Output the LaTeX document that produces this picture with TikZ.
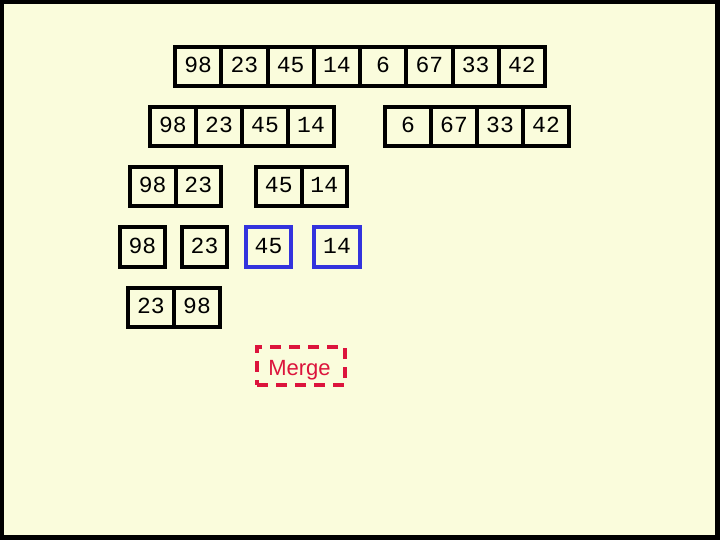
\documentclass[tikz,border=0pt]{standalone}
\usepackage{fontspec}
\newfontfamily\cellfont{Liberation Mono}
\newfontfamily\sansf{Liberation Sans}
\definecolor{bgyel}{RGB}{250,252,220}
\definecolor{blueb}{RGB}{51,51,221}
\definecolor{redm}{RGB}{220,20,60}
\tikzset{
  cell/.style={draw=black, line width=4pt, inner sep=0pt, minimum height=39pt,
    text height=12pt, text depth=0pt,
    font=\cellfont\fontsize{23}{25}\selectfont, anchor=center},
  bcell/.style={cell, draw=blueb},
  mergebox/.style={draw=redm, line width=3.5pt, dash pattern=on 11pt off 8pt,
    minimum width=88pt, minimum height=38pt, inner sep=0pt}
}
\begin{document}
\begin{tikzpicture}[x=1pt,y=-1pt]
\useasboundingbox (0,0) rectangle (720,540);
\fill[black] (0,0) rectangle (720,540);
\fill[bgyel] (4,4) rectangle (715,535);
% row 1
\foreach \v [count=\i] in {98,23,45,14,6,67,33,42}{
  \node[cell, minimum width=46.25pt] (r1c\i) at ({175+46.25*(\i-0.5)},66.5) {\v};
}
% row 2 left
\foreach \v [count=\i] in {98,23,45,14}{
  \node[cell, minimum width=46pt] (r2l\i) at ({150+46*(\i-0.5)},127) {\v};
}
% row 2 right
\foreach \v [count=\i] in {6,67,33,42}{
  \node[cell, minimum width=46pt] (r2r\i) at ({385+46*(\i-0.5)},127) {\v};
}
% row 3
\node[cell, minimum width=45.5pt] (r3a1) at (152.75,187) {98};
\node[cell, minimum width=45.5pt] (r3a2) at (198.25,187) {23};
\node[cell, minimum width=45.5pt] (r3b1) at (278.75,187) {45};
\node[cell, minimum width=45.5pt] (r3b2) at (324.25,187) {14};
% row 4
\node[cell, minimum width=45pt] (r4a) at (142.5,247) {98};
\node[cell, minimum width=45pt] (r4b) at (204.5,247) {23};
\node[bcell, minimum width=45pt] (r4c) at (268.5,247) {45};
\node[bcell, minimum width=46pt] (r4d) at (337,247) {14};
% row 5
\node[cell, minimum width=46pt] (r5a) at (151,307) {23};
\node[cell, minimum width=46pt] (r5b) at (197,307) {98};
% merge
\node[mergebox] (merge) at (301,366) {};
\node[text=redm, font=\sansf\fontsize{22}{24}\selectfont, inner sep=0pt, anchor=base] (mergetxt) at (299.5,375) {Merge};
\end{tikzpicture}
\end{document}
